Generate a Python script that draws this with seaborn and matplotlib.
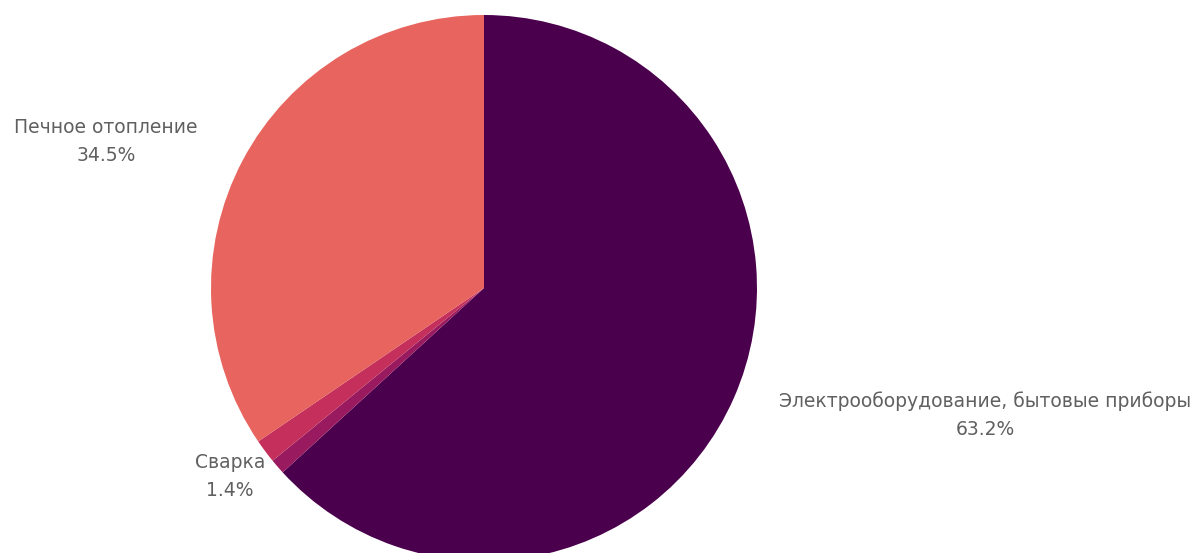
import matplotlib
matplotlib.use("Agg")
import matplotlib.pyplot as plt
import seaborn as sns

# data
causes = ["Электрооборудование, бытовые приборы", "Прочее", "Сварка", "Печное отопление"]
shares = [63.2, 0.9, 1.4, 34.5]
show_label = [True, False, True, True]
colors = ["#4b004d", "#9a1a5f", "#c4305b", "#e8645e"]

sns.set_theme(style="white")
plt.rcParams["font.family"] = ["DejaVu Sans"]

fig = plt.figure(figsize=(12.03, 5.53), dpi=100)
# axes placed so the pie sits centred at ~(484, 288) px with radius ~273 px
cx, cy, r = 484, 288, 273
W, H = 1203, 553
ax = fig.add_axes([(cx - r) / W, (H - cy - r) / H, 2 * r / W, 2 * r / H])

wedges, _ = ax.pie(shares, colors=colors, startangle=90, counterclock=False,
                   wedgeprops=dict(linewidth=0))
ax.set_xlim(-1, 1)
ax.set_ylim(-1, 1)
ax.set_aspect("equal")
ax.axis("off")

# label positions (pixels in the figure)
label_pos = {
    "Электрооборудование, бытовые приборы": (985, 415),
    "Сварка": (230, 477),
    "Печное отопление": (106, 141),
}
for name, val, show in zip(causes, shares, show_label):
    if not show:
        continue
    px, py = label_pos[name]
    fig.text(px / W, 1 - py / H, f"{name}\n{val}%", ha="center", va="center",
             fontsize=13.5, color="#606060", linespacing=1.6)

fig.savefig("out.png", dpi=100)
